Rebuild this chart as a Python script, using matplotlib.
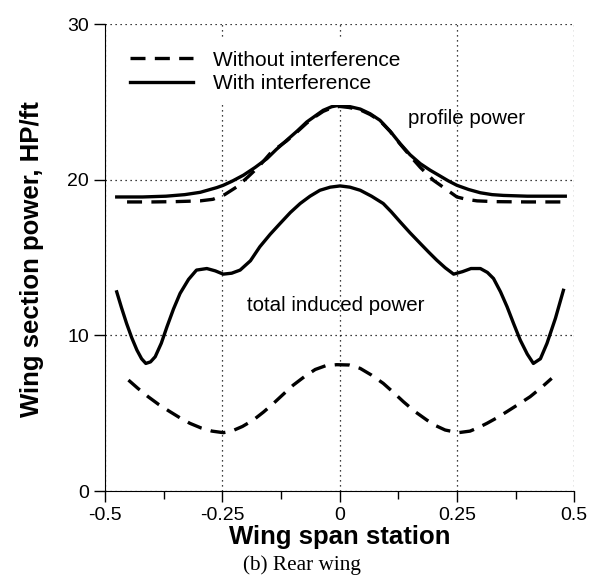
import numpy as np
import matplotlib
matplotlib.use("Agg")
import matplotlib.pyplot as plt

plt.rcParams['font.family'] = ['Liberation Sans', 'DejaVu Sans']

# Valores (estacion de envergadura -> potencia HP/ft)
# Potencia de perfil, con interferencia
x_prof_with = [-0.475, -0.42, -0.37, -0.33, -0.297, -0.262, -0.248, -0.23, -0.205, -0.18,
               -0.155, -0.135, -0.113, -0.09, -0.07, -0.05, -0.035, -0.017, 0.0, 0.02,
               0.044, 0.065, 0.086, 0.108, 0.129, 0.15, 0.172, 0.193, 0.214, 0.232,
               0.25, 0.275, 0.3, 0.325, 0.349, 0.4, 0.481]
y_prof_with = [18.9, 18.9, 18.95, 19.05, 19.2, 19.5, 19.65, 19.9, 20.3, 20.8,
               21.36, 21.95, 22.54, 23.15, 23.72, 24.15, 24.47, 24.7, 24.8, 24.72,
               24.55, 24.25, 23.83, 23.12, 22.33, 21.62, 21.04, 20.62, 20.25, 19.93,
               19.65, 19.38, 19.17, 19.05, 19.0, 18.95, 18.95]

# Potencia de perfil, sin interferencia
x_prof_without = [-0.453, -0.40, -0.35, -0.297, -0.27, -0.245, -0.219, -0.195, -0.173, -0.145,
                  -0.113, -0.09, -0.07, -0.05, -0.035, -0.017, 0.0, 0.02, 0.044, 0.065,
                  0.086, 0.108, 0.129, 0.15, 0.172, 0.2, 0.225, 0.25, 0.27, 0.293,
                  0.33, 0.4, 0.48]
y_prof_without = [18.58, 18.58, 18.6, 18.65, 18.75, 19.05, 19.55, 20.2, 20.83, 21.8,
                  22.5, 23.1, 23.65, 24.1, 24.4, 24.63, 24.72, 24.65, 24.5, 24.2,
                  23.8, 23.1, 22.3, 21.55, 20.8, 19.97, 19.44, 18.9, 18.75, 18.65,
                  18.6, 18.58, 18.58]

# Potencia inducida total, con interferencia
x_ind_with = [-0.475, -0.465, -0.454, -0.443, -0.432, -0.422, -0.413, -0.403, -0.393, -0.38,
              -0.368, -0.354, -0.34, -0.322, -0.305, -0.283, -0.265, -0.248, -0.23, -0.212,
              -0.19, -0.17, -0.148, -0.127, -0.105, -0.084, -0.063, -0.042, -0.02, 0.001,
              0.022, 0.044, 0.068, 0.093, 0.11, 0.129, 0.15, 0.172, 0.19, 0.207,
              0.225, 0.243, 0.262, 0.28, 0.3, 0.315, 0.328, 0.343, 0.357, 0.371,
              0.385, 0.4, 0.413, 0.428, 0.442, 0.46, 0.477]
y_ind_with = [12.8, 11.8, 10.77, 9.85, 9.06, 8.5, 8.2, 8.3, 8.63, 9.5,
              10.55, 11.7, 12.7, 13.6, 14.2, 14.3, 14.15, 13.94, 14.0, 14.2,
              14.8, 15.7, 16.5, 17.19, 17.9, 18.48, 18.95, 19.33, 19.53, 19.61,
              19.53, 19.33, 18.95, 18.48, 17.95, 17.3, 16.6, 15.91, 15.35, 14.84,
              14.35, 13.94, 14.1, 14.3, 14.3, 14.05, 13.66, 12.8, 11.84, 10.75,
              9.7, 8.8, 8.2, 8.5, 9.49, 11.1, 12.9]

# Potencia inducida total, sin interferencia
x_ind_without = [-0.45, -0.43, -0.408, -0.385, -0.361, -0.34, -0.319, -0.295, -0.272, -0.248,
                 -0.23, -0.207, -0.184, -0.162, -0.141, -0.12, -0.099, -0.075, -0.052, -0.03,
                 -0.006, 0.02, 0.044, 0.068, 0.093, 0.115, 0.136, 0.16, 0.186, 0.205,
                 0.225, 0.253, 0.278, 0.296, 0.314, 0.335, 0.356, 0.38, 0.406, 0.43, 0.452]
y_ind_without = [7.13, 6.6, 6.06, 5.55, 5.09, 4.7, 4.35, 4.05, 3.85, 3.75,
                 3.85, 4.15, 4.56, 5.08, 5.63, 6.22, 6.8, 7.35, 7.81, 8.05,
                 8.12, 8.1, 7.88, 7.45, 6.92, 6.33, 5.74, 5.12, 4.56, 4.2,
                 3.92, 3.75, 3.85, 4.08, 4.35, 4.7, 5.09, 5.55, 6.06, 6.65, 7.24]

xticks = [-0.5, -0.25, 0, 0.25, 0.5]
xticklabels = ['-0.5', '-0.25', '0', '0.25', '0.5']
xminor = [-0.375, -0.125, 0.125, 0.375]
yticks = [0, 10, 20, 30]

fig = plt.figure(figsize=(6.0, 5.78), dpi=100)
ax = fig.add_axes([0.175, 0.1505, 0.782, 0.8075])

lw = 2.4
dash = (4.5, 2.8)
ax.plot(x_prof_without, y_prof_without, color='black', lw=lw, dashes=dash,
        label='Without interference')
ax.plot(x_prof_with, y_prof_with, color='black', lw=lw, label='With interference')
ax.plot(x_ind_without, y_ind_without, color='black', lw=lw, dashes=dash)
ax.plot(x_ind_with, y_ind_with, color='black', lw=lw)

ax.set_xlim(-0.5, 0.5)
ax.set_ylim(0, 30)
ax.set_xticks(xticks)
ax.set_xticklabels(xticklabels)
ax.set_xticks(xminor, minor=True)
ax.set_yticks(yticks)
ax.tick_params(axis='both', which='both', direction='out', labelsize=14, width=1)
ax.tick_params(axis='both', which='major', length=8)
ax.tick_params(axis='x', which='minor', length=6)

ax.grid(True, which='major', linestyle=(0, (1, 3)), color='black', lw=0.9)
ax.spines['top'].set_visible(False)
ax.spines['right'].set_visible(False)

ax.text(0.271, 23.96, 'profile power', fontsize=14.8, ha='center', va='center')
ax.text(-0.0075, 11.95, 'total induced power', fontsize=14.8, ha='center', va='center')

leg = ax.legend(loc='upper left', bbox_to_anchor=(0.0267, 0.970), borderaxespad=0,
                fontsize=15, frameon=True, framealpha=1, edgecolor='white',
                handlelength=3.0, handletextpad=0.96, labelspacing=0.2, borderpad=0.6)
leg.get_frame().set_linewidth(0)

ax.set_xlabel('Wing span station', fontsize=18.5, fontweight='bold', labelpad=1)
ax.set_ylabel('Wing section power, HP/ft', fontsize=18.5, fontweight='bold')
ax.yaxis.set_label_coords(-0.13, 0.497)

fig.text(0.503, 0.023, '(b) Rear wing', fontsize=15.3, ha='center', va='center',
         family=['Liberation Serif', 'DejaVu Serif'])

fig.savefig('out.png', dpi=100)
